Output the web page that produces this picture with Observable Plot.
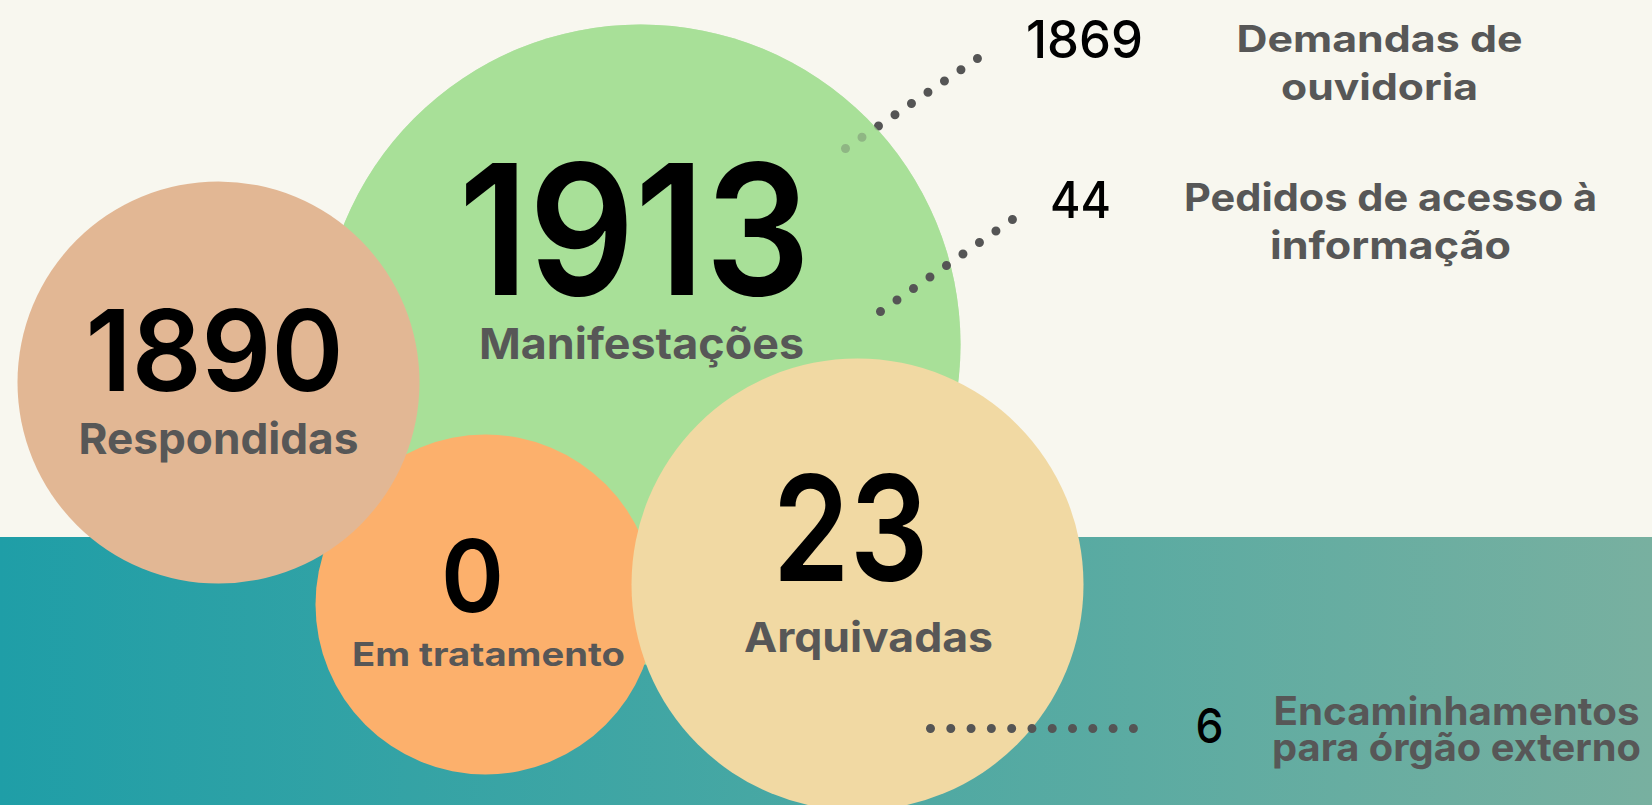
<!DOCTYPE html>
<html>
<head>
<meta charset="utf-8">
<script src="https://cdn.jsdelivr.net/npm/d3@7"></script>
<script src="https://cdn.jsdelivr.net/npm/@observablehq/plot@0.6"></script>
<style>
  html, body { margin: 0; padding: 0; background: #f8f7ef; }
  #chart svg { display: block; }
</style>
</head>
<body>
<div id="chart"></div>
<script>
// ---- data ----
const bubbleLabels = ["Manifestações", "Em tratamento", "Respondidas", "Arquivadas"];
const bubbleValues = [1913, 0, 1890, 23];
const breakdownLabels = ["Demandas de\nouvidoria", "Pedidos de acesso à\ninformação", "Encaminhamentos\npara órgão externo"];
const breakdownValues = [1869, 44, 6];

// ---- layout (positions / sizes / styles) ----
const W = 1652, H = 805;
const bubbleLayout = [
  {cx: 640, cy: 344, r: 320, color: "#a8df98", numX: 634, numY: 294, numSize: 182, labX: 641, labY: 358, labSize: 43},
  {cx: 485, cy: 604, r: 170, color: "#fcb06c", numX: 472, numY: 611, numSize: 100, labX: 488, labY: 665, labSize: 32},
  {cx: 218, cy: 382, r: 201, color: "#e2b794", numX: 214, numY: 390, numSize: 113, labX: 218, labY: 453, labSize: 43},
  {cx: 857, cy: 584, r: 226, color: "#f1d9a3", numX: 850, numY: 580, numSize: 147, labX: 868, labY: 651, labSize: 41}
];
const breakdownLayout = [
  {numX: 1084, numY: 57, numSize: 52, labX: 1379, labY: 99, labSize: 37, lh: 48,
   x1: 845, y1: 148, x2: 977, y2: 58, n: 9},
  {numX: 1080, numY: 217, numSize: 51, labX: 1390, labY: 258, labSize: 38, lh: 48,
   x1: 880, y1: 311, x2: 1012, y2: 219, n: 9},
  {numX: 1209, numY: 742, numSize: 48, labX: 1456, labY: 760, labSize: 39, lh: 36,
   x1: 930, y1: 728, x2: 1133, y2: 728, n: 11}
];
// rendered width of each text line in the reference (px)
const textWidths = {
  "1913": 352, "Manifestações": 325, "1890": 258, "Respondidas": 280,
  "0": 63, "Em tratamento": 273, "23": 156, "Arquivadas": 249,
  "1869": 117, "Demandas de": 286, "ouvidoria": 197,
  "44": 61, "Pedidos de acesso à": 413, "informação": 241,
  "6": 28, "Encaminhamentos": 366, "para órgão externo": 369
};
const band = [{x1: 0, x2: W, y1: 537, y2: H}];

const bubbles = bubbleLabels.map((label, i) => ({label, value: bubbleValues[i], ...bubbleLayout[i]}));
const breakdown = breakdownLabels.map((label, i) => ({label, value: breakdownValues[i], ...breakdownLayout[i]}));

const numFont = "Inter, 'Open Sans', sans-serif";
const labFont = "Inter, 'Open Sans', sans-serif";
const grey = "#575757";
const dotGrey = "#555555";

function connector(d, opts = {}) {
  const len = Math.hypot(d.x2 - d.x1, d.y2 - d.y1);
  const gap = len / (d.n - 1) - 0.01;
  return Plot.link([d], {
    x1: "x1", y1: "y1", x2: "x2", y2: "y2",
    stroke: dotGrey, strokeWidth: 9, strokeLinecap: "round",
    strokeDasharray: `0 ${gap}`, ...opts
  });
}

const gradientDefs = () => {
  const defs = d3.create("svg:defs");
  const g = defs.append("linearGradient").attr("id", "tealGrad")
    .attr("x1", "0").attr("x2", "1").attr("y1", "0").attr("y2", "0");
  g.append("stop").attr("offset", "0%").attr("stop-color", "#1f9ea7");
  g.append("stop").attr("offset", "50%").attr("stop-color", "#4aa8a3");
  g.append("stop").attr("offset", "100%").attr("stop-color", "#78b0a0");
  return defs.node();
};

const green = bubbles.filter(d => d.label === "Manifestações");
const others = bubbles.filter(d => d.label !== "Manifestações");

const bubbleTexts = bubbles.flatMap(d => [
  Plot.text([d], {x: "numX", y: "numY", text: d => String(d.value), fontSize: d.numSize,
    fill: "#000", fontFamily: numFont, fontWeight: 600, lineAnchor: "bottom", textAnchor: "middle"}),
  Plot.text([d], {x: "labX", y: "labY", text: "label", fontSize: d.labSize,
    fill: grey, fontFamily: labFont, fontWeight: 700, lineAnchor: "bottom", textAnchor: "middle"})
]);
const breakdownTexts = breakdown.flatMap(d => [
  Plot.text([d], {x: "numX", y: "numY", text: d => String(d.value), fontSize: d.numSize,
    fill: "#000", fontFamily: numFont, fontWeight: 500, lineAnchor: "bottom", textAnchor: "middle"}),
  Plot.text([d], {x: "labX", y: "labY", text: "label", fontSize: d.labSize, lineHeight: d.lh / d.labSize,
    fill: grey, fontFamily: labFont, fontWeight: 700, lineAnchor: "bottom", textAnchor: "middle"})
]);

const chart = Plot.plot({
  width: W,
  height: H,
  margin: 0,
  x: {domain: [0, W], range: [0, W], axis: null},
  y: {domain: [0, H], range: [0, H], axis: null},
  r: {type: "identity"},
  style: {background: "#f8f7ef", overflow: "hidden"},
  marks: [
    gradientDefs,
    Plot.rect(band, {x1: "x1", x2: "x2", y1: "y1", y2: "y2", fill: "url(#tealGrad)"}),
    Plot.dot(green, {x: "cx", y: "cy", r: "r", fill: "color", sort: null}),
    connector(breakdown[0]),
    Plot.dot(green, {x: "cx", y: "cy", r: "r", fill: "color", fillOpacity: 0.7, sort: null}),
    Plot.dot(others, {x: "cx", y: "cy", r: "r", fill: "color", sort: null}),
    connector(breakdown[1]),
    connector(breakdown[2]),
    ...bubbleTexts,
    ...breakdownTexts
  ]
});

// stretch each text line to the width it has in the reference (Poppins is wider than Inter)
chart.querySelectorAll("text").forEach(t => {
  const parts = t.querySelectorAll("tspan");
  const targets = parts.length ? Array.from(parts) : [t];
  targets.forEach(el => {
    const w = textWidths[el.textContent.trim()];
    if (w) {
      el.setAttribute("textLength", w);
      el.setAttribute("lengthAdjust", "spacingAndGlyphs");
    }
  });
});

document.getElementById("chart").append(chart);
</script>
</body>
</html>
